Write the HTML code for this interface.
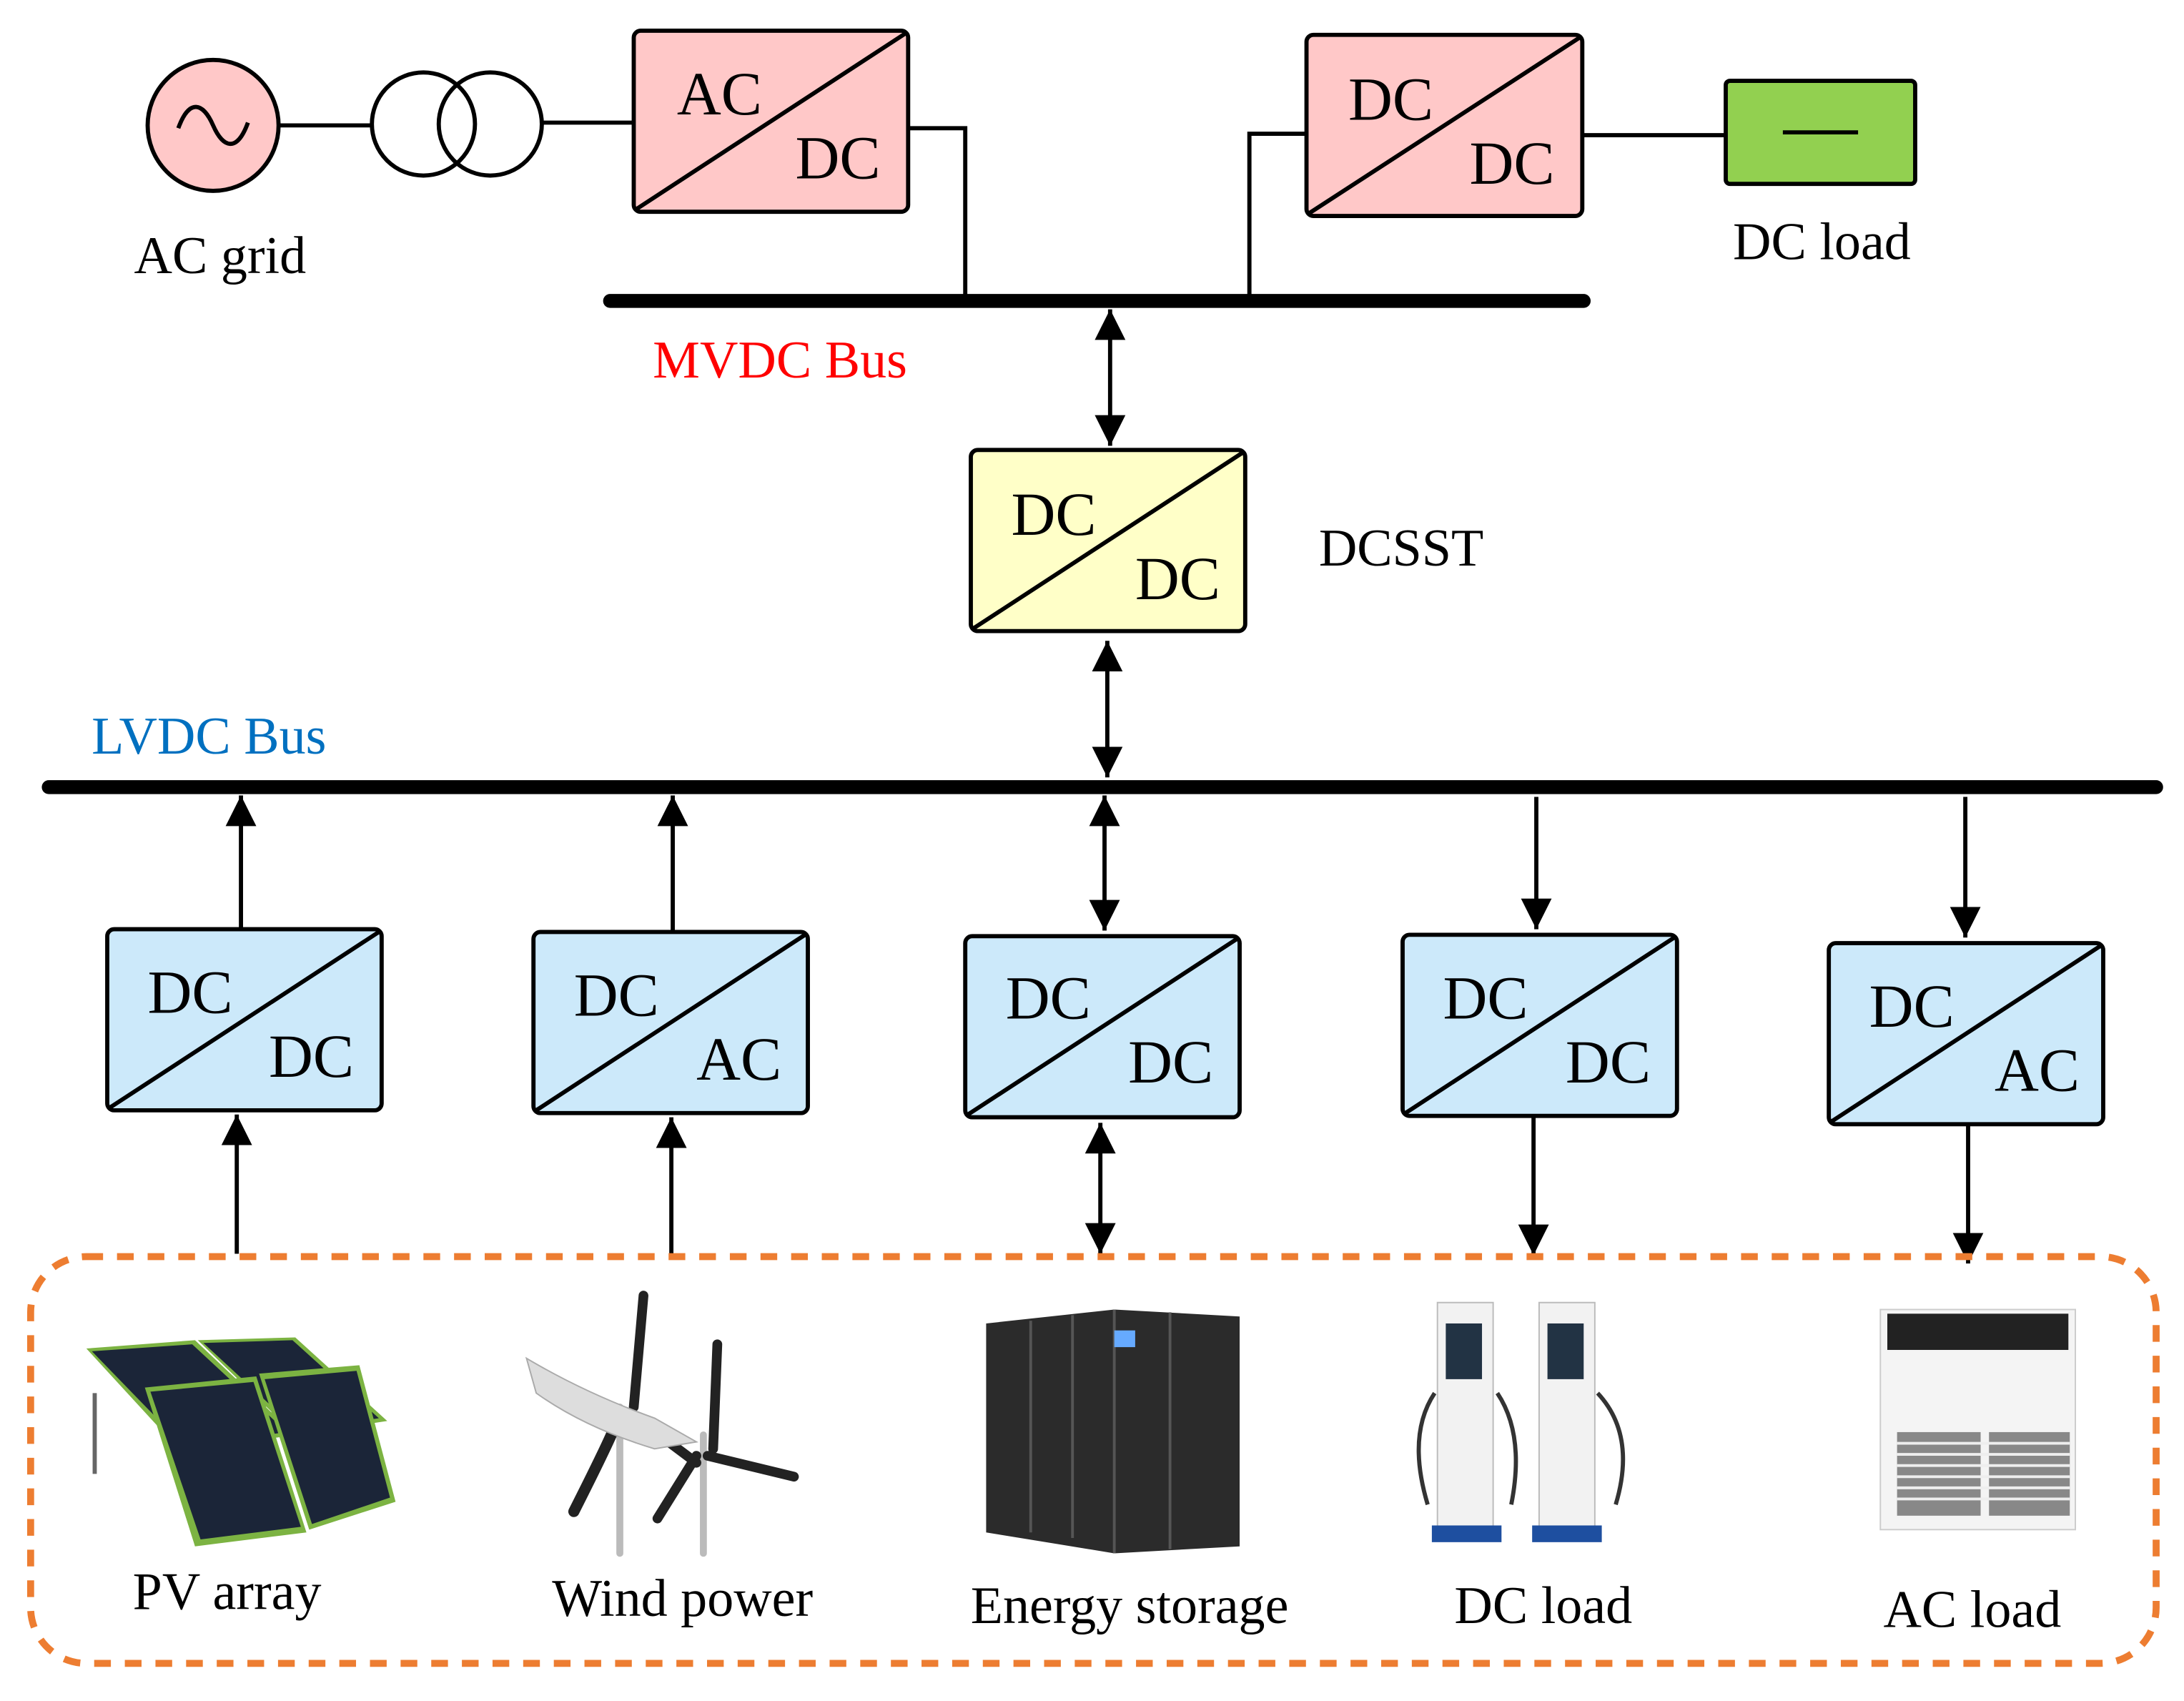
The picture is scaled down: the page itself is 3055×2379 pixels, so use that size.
<!DOCTYPE html>
<html><head><meta charset="utf-8"><style>
html,body{margin:0;padding:0;background:#fff;}
svg{display:block;}
text{font-family:"Liberation Serif",serif;}
</style></head><body>
<svg width="3055" height="2379" viewBox="0 0 1568 1221" xmlns="http://www.w3.org/2000/svg">
<defs>
<marker id="a" viewBox="0 0 10 10" refX="10" refY="5" markerWidth="22" markerHeight="24" orient="auto-start-reverse" markerUnits="userSpaceOnUse"><path d="M0,0 L10,5 L0,10 z" fill="#000"/></marker>
</defs>
<g stroke="#000" stroke-width="3" fill="none">
<circle cx="153" cy="90" r="47" fill="#ffc8c8"/>
<path d="M128,92 C136,70 146,74 153,90 C160,106 170,110 178,88" stroke-width="3"/>
<line x1="200" y1="90" x2="267" y2="90"/>
<circle cx="304" cy="89" r="37"/>
<circle cx="352" cy="89" r="37"/>
<line x1="389" y1="88" x2="455" y2="88"/>
<rect x="455" y="22" width="197" height="130" rx="5" fill="#ffc8c8"/>
<line x1="457" y1="150" x2="650" y2="24"/>
<polyline points="652,92 693,92 693,216"/>
<rect x="938" y="25" width="198" height="130" rx="5" fill="#ffc8c8"/>
<line x1="940" y1="153" x2="1134" y2="27"/>
<polyline points="938,96 897,96 897,216"/>
<line x1="1136" y1="97" x2="1240" y2="97"/>
<rect x="1239" y="58" width="136" height="74" rx="3" fill="#92d050"/>
<line x1="1280" y1="95" x2="1334" y2="95"/>
<line x1="438" y1="216" x2="1137" y2="216" stroke-width="10" stroke-linecap="round"/>
<line x1="797" y1="222" x2="797" y2="320" marker-start="url(#a)" marker-end="url(#a)"/>
<rect x="697" y="323" width="197" height="130" rx="5" fill="#ffffc8"/>
<line x1="699" y1="451" x2="892" y2="325"/>
<line x1="795" y1="460" x2="795" y2="558" marker-start="url(#a)" marker-end="url(#a)"/>
<line x1="35" y1="565" x2="1548" y2="565" stroke-width="10" stroke-linecap="round"/>
<g fill="#cce9fa">
<rect x="77" y="667" width="197" height="130" rx="5"/>
<rect x="383" y="669" width="197" height="130" rx="5"/>
<rect x="693" y="672" width="197" height="130" rx="5"/>
<rect x="1007" y="671" width="197" height="130" rx="5"/>
<rect x="1313" y="677" width="197" height="130" rx="5"/>
</g>
<line x1="79" y1="795" x2="272" y2="669"/>
<line x1="385" y1="797" x2="578" y2="671"/>
<line x1="695" y1="800" x2="888" y2="674"/>
<line x1="1009" y1="799" x2="1202" y2="673"/>
<line x1="1315" y1="805" x2="1508" y2="679"/>
<line x1="173" y1="667" x2="173" y2="571" marker-end="url(#a)"/>
<line x1="170" y1="900" x2="170" y2="800" marker-end="url(#a)"/>
<line x1="483" y1="669" x2="483" y2="571" marker-end="url(#a)"/>
<line x1="482" y1="900" x2="482" y2="802" marker-end="url(#a)"/>
<line x1="793" y1="571" x2="793" y2="668" marker-start="url(#a)" marker-end="url(#a)"/>
<line x1="790" y1="806" x2="790" y2="900" marker-start="url(#a)" marker-end="url(#a)"/>
<line x1="1103" y1="572" x2="1103" y2="667" marker-end="url(#a)"/>
<line x1="1101" y1="802" x2="1101" y2="901" marker-end="url(#a)"/>
<line x1="1411" y1="572" x2="1411" y2="673" marker-end="url(#a)"/>
<line x1="1413" y1="808" x2="1413" y2="907" marker-end="url(#a)"/>
</g>
<rect x="22" y="902" width="1526" height="292" rx="40" fill="none" stroke="#ed7d31" stroke-width="5" stroke-dasharray="12 10"/>
<g>
<polygon points="62,968 140,962 212,1030 130,1042" fill="#7cb342"/>
<polygon points="66,970 138,965 206,1028 132,1038" fill="#1b2538"/>
<polygon points="142,962 212,960 278,1020 212,1030" fill="#7cb342"/>
<polygon points="146,964 210,962 272,1018 214,1027" fill="#1b2538"/>
<polygon points="104,996 184,988 220,1100 140,1110" fill="#7cb342"/>
<polygon points="108,999 182,992 216,1096 144,1105" fill="#1b2538"/>
<polygon points="186,986 258,980 284,1078 222,1098" fill="#7cb342"/>
<polygon points="190,990 256,984 280,1075 224,1094" fill="#1b2538"/>
<line x1="68" y1="1000" x2="68" y2="1058" stroke="#666" stroke-width="3"/>
<g stroke="#222" stroke-linecap="round">
<line x1="445" y1="1010" x2="445" y2="1115" stroke="#bbb" stroke-width="5"/>
<line x1="505" y1="1030" x2="505" y2="1115" stroke="#bbb" stroke-width="5"/>
<path d="M440,1020 Q455,1000 412,1085" stroke-width="8" fill="none"/>
<path d="M455,1010 L462,930" stroke-width="7"/>
<path d="M460,1020 L500,1050" stroke-width="7"/>
<path d="M512,1040 L515,965" stroke-width="7"/>
<path d="M508,1045 L570,1060" stroke-width="7"/>
<path d="M500,1045 L472,1090" stroke-width="7"/>
</g>
<path d="M378,975 Q420,1000 470,1018 L500,1035 L470,1040 Q420,1025 385,1000 z" fill="#ddd" stroke="#aaa"/>
<polygon points="708,950 800,940 890,945 890,1110 800,1115 708,1100" fill="#2b2b2b"/>
<g stroke="#555" stroke-width="2">
<line x1="740" y1="948" x2="740" y2="1100"/><line x1="770" y1="944" x2="770" y2="1104"/>
<line x1="800" y1="940" x2="800" y2="1115"/><line x1="840" y1="942" x2="840" y2="1112"/>
</g>
<rect x="800" y="955" width="15" height="12" fill="#6af"/>
<rect x="1032" y="935" width="40" height="165" fill="#f2f2f2" stroke="#bbb"/>
<rect x="1038" y="950" width="26" height="40" fill="#234"/>
<rect x="1028" y="1095" width="50" height="12" fill="#1e4fa0"/>
<rect x="1105" y="935" width="40" height="165" fill="#f2f2f2" stroke="#bbb"/>
<rect x="1111" y="950" width="26" height="40" fill="#234"/>
<rect x="1100" y="1095" width="50" height="12" fill="#1e4fa0"/>
<path d="M1030,1000 Q1010,1030 1025,1080 M1075,1000 Q1095,1030 1085,1080 M1147,1000 Q1175,1030 1160,1080" stroke="#333" stroke-width="3" fill="none"/>
<rect x="1350" y="940" width="140" height="158" fill="#f4f4f4" stroke="#ccc"/>
<rect x="1355" y="943" width="130" height="26" fill="#222"/>
<g fill="#888">
<rect x="1362" y="1028" width="60" height="60"/><rect x="1428" y="1028" width="58" height="60"/>
</g>
<g stroke="#eee" stroke-width="2">
<line x1="1362" y1="1036" x2="1486" y2="1036"/><line x1="1362" y1="1044" x2="1486" y2="1044"/>
<line x1="1362" y1="1052" x2="1486" y2="1052"/><line x1="1362" y1="1060" x2="1486" y2="1060"/>
<line x1="1362" y1="1068" x2="1486" y2="1068"/><line x1="1362" y1="1076" x2="1486" y2="1076"/>
</g>
</g>
<g font-size="44" fill="#000">
<text x="486" y="82">AC</text><text x="571" y="128">DC</text>
<text x="968" y="86">DC</text><text x="1055" y="132">DC</text>
<text x="726" y="384">DC</text><text x="815" y="430">DC</text>
<text x="106" y="727">DC</text><text x="193" y="773">DC</text>
<text x="412" y="729">DC</text><text x="500" y="775">AC</text>
<text x="722" y="731">DC</text><text x="810" y="777">DC</text>
<text x="1036" y="731">DC</text><text x="1124" y="777">DC</text>
<text x="1342" y="737">DC</text><text x="1432" y="783">AC</text>
</g>
<g font-size="38" fill="#000" text-anchor="middle">
<text x="158" y="196">AC grid</text>
<text x="1308" y="186">DC load</text>
<text x="1006" y="406">DCSST</text>
<text x="163" y="1155">PV array</text>
<text x="490" y="1160">Wind power</text>
<text x="811" y="1165">Energy storage</text>
<text x="1108" y="1165">DC load</text>
<text x="1416" y="1168">AC load</text>
<text x="560" y="271" fill="#ff0000">MVDC Bus</text>
<text x="150" y="541" fill="#0070c0">LVDC Bus</text>
</g>
</svg>
</body></html>
